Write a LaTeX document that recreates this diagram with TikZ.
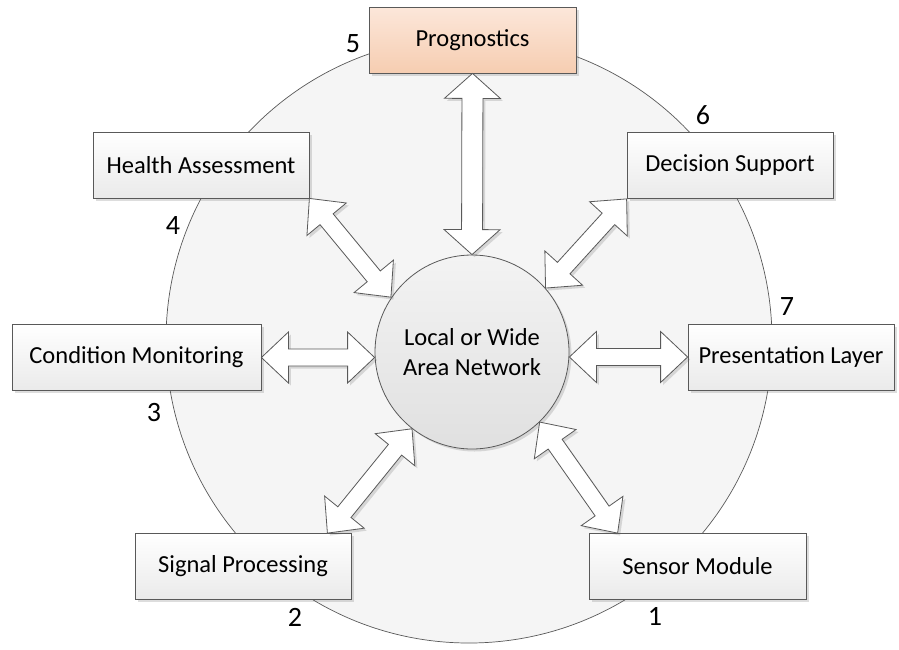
\documentclass[tikz,border=0pt]{standalone}
\usepackage{fontspec}
\setmainfont{Carlito}
\usetikzlibrary{calc,shadows}

\definecolor{edge}{HTML}{595959}
\definecolor{ringfill}{HTML}{F5F5F5}
\definecolor{hubtop}{HTML}{F3F3F3}
\definecolor{hubbot}{HTML}{E0E0E0}
\definecolor{boxtop}{HTML}{FFFFFF}
\definecolor{boxbot}{HTML}{EAEAEA}
\definecolor{progtop}{HTML}{FCE7DA}
\definecolor{progbot}{HTML}{F6CDB1}

\begin{document}
\begin{tikzpicture}[x=1pt,y=-1pt,
  blk head/.store in=\arrhead, blk wing/.store in=\arrwing, blk shaft/.store in=\arrshaft,
  blk head=27pt, blk wing=25.5pt, blk shaft=8.5pt,
  softshadow/.style={drop shadow={shadow xshift=2.5pt,shadow yshift=-2.5pt,opacity=0.22,fill=black!60}},
  module/.style={draw=edge,line width=0.8pt,top color=boxtop,bottom color=boxbot,
    minimum height=66pt,inner sep=0pt,font=\fontsize{24.5}{29}\selectfont,softshadow},
  numlabel/.style={inner sep=0pt,font=\fontsize{28}{30}\selectfont},
  dblarrow/.style={draw=edge,fill=white,line width=0.8pt,line join=miter,softshadow,
    to path={
      let \p1=(\tikztostart), \p2=(\tikztotarget),
          \n1={atan2(\y2-\y1,\x2-\x1)}, \n2={veclen(\x2-\x1,\y2-\y1)} in
      ([shift={(\p1)},rotate=\n1]0pt,0pt)
      -- ([shift={(\p1)},rotate=\n1]\arrhead,\arrwing)
      -- ([shift={(\p1)},rotate=\n1]\arrhead,\arrshaft)
      -- ([shift={(\p1)},rotate=\n1]{\n2*1pt-\arrhead},\arrshaft)
      -- ([shift={(\p1)},rotate=\n1]{\n2*1pt-\arrhead},\arrwing)
      -- ([shift={(\p1)},rotate=\n1]{\n2*1pt},0pt)
      -- ([shift={(\p1)},rotate=\n1]{\n2*1pt-\arrhead},-\arrwing)
      -- ([shift={(\p1)},rotate=\n1]{\n2*1pt-\arrhead},-\arrshaft)
      -- ([shift={(\p1)},rotate=\n1]\arrhead,-\arrshaft)
      -- ([shift={(\p1)},rotate=\n1]\arrhead,-\arrwing)
      -- cycle}}
]
\useasboundingbox (0,0) rectangle (899,649);

% outer ring
\node[circle,draw=edge,line width=0.7pt,fill=ringfill,minimum size=606pt,inner sep=0pt] (ring) at (469,340) {};

% central network hub
\node[circle,draw=edge,line width=0.8pt,top color=hubtop,bottom color=hubbot,
  minimum size=194pt,inner sep=0pt,align=center,softshadow,
  font=\fontsize{24.5}{30}\selectfont] (net) at (472,352) {Local or Wide\\Area Network};

% modules around the ring
\node[module,minimum width=207pt,top color=progtop,bottom color=progbot] (prog) at (472.5,40) {Prognostics};
\node[module,minimum width=216pt] (hlth) at (201,165) {Health Assessment};
\node[module,minimum width=206pt] (dec) at (730,165.5) {Decision Support};
\node[module,minimum width=249pt] (cond) at (136.5,357.5) {Condition Monitoring};
\node[module,minimum width=206pt] (pres) at (791,357) {Presentation Layer};
\node[module,minimum width=216pt] (sig) at (243,566.5) {Signal Processing};
\node[module,minimum width=217pt] (sen) at (697.5,566.5) {Sensor Module};

% stage numbers
\node[numlabel] (n1) at (655,616) {1};
\node[numlabel] (n2) at (295,617) {2};
\node[numlabel] (n3) at (154,412) {3};
\node[numlabel] (n4) at (173,226) {4};
\node[numlabel] (n5) at (353,44) {5};
\node[numlabel] (n6) at (703,115) {6};
\node[numlabel] (n7) at (787,307) {7};

% arrow end points
\coordinate (cw) at (cond.east -| net.west);
\coordinate (pe) at (pres.west -| net.east);
\coordinate (sigtip) at ([xshift=-24pt]sig.north east);
\coordinate (sentip) at ([xshift=29pt]sen.north west);

% links to the network
\draw[dblarrow,blk head=25pt,blk wing=28pt,blk shaft=10.5pt] (prog.south) to (net.north);
\draw[dblarrow] (hlth.south east) to (net.146);
\draw[dblarrow] (dec.south west) to (net.41);
\draw[dblarrow] (cond.east) to (cw);
\draw[dblarrow] (pe) to (pres.west);
\draw[dblarrow] (net.232) to (sigtip);
\draw[dblarrow] (net.314) to (sentip);
\end{tikzpicture}
\end{document}
